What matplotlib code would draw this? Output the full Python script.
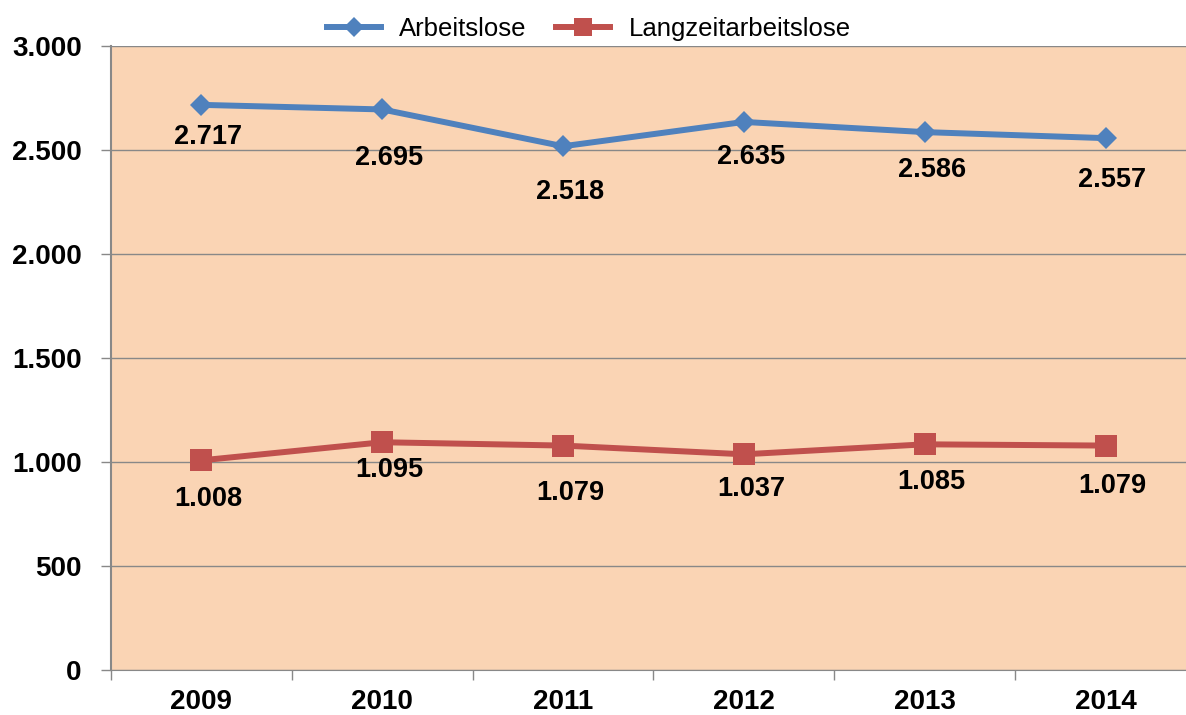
import matplotlib.pyplot as plt
from matplotlib.ticker import FixedLocator

# data
years = ["2009", "2010", "2011", "2012", "2013", "2014"]
arbeitslose = [2717, 2695, 2518, 2635, 2586, 2557]
langzeit = [1008, 1095, 1079, 1037, 1085, 1079]
yticks = [0, 500, 1000, 1500, 2000, 2500, 3000]

# label offsets below the points (points), as placed in the original
off_blue = [23, 35, 33, 25, 27, 30]
off_red = [28, 20, 34, 25, 27, 29]

plt.rcParams['font.family'] = ['Liberation Sans', 'DejaVu Sans']

fig = plt.figure(figsize=(11.86, 7.15), dpi=100)
ax = fig.add_axes([111 / 1186, 45 / 715, 1085 / 1186, 624 / 715])
ax.set_facecolor('#FAD4B4')

x = list(range(len(years)))
ax.plot(x, arbeitslose, color='#4F81BD', linewidth=4.3, marker='D',
        markersize=11.5, markeredgewidth=0, label='Arbeitslose', zorder=3)
ax.plot(x, langzeit, color='#C0504D', linewidth=4.3, marker='s',
        markersize=15.5, markeredgewidth=0, label='Langzeitarbeitslose', zorder=3)

def fmt(v):
    return "{:,}".format(v).replace(",", ".")

for i, v in enumerate(arbeitslose):
    ax.annotate(fmt(v), (i, v), xytext=(5, -off_blue[i]), textcoords='offset points',
                ha='center', va='center', fontsize=19.5, fontweight='bold', zorder=4)
for i, v in enumerate(langzeit):
    ax.annotate(fmt(v), (i, v), xytext=(5, -off_red[i]), textcoords='offset points',
                ha='center', va='center', fontsize=19.5, fontweight='bold', zorder=4)

ax.set_xlim(-0.5, 5.5)
ax.set_ylim(0, 3000)
ax.set_yticks(yticks)
ax.set_yticklabels([fmt(v) for v in yticks], fontsize=20, fontweight='bold')
ax.set_xticks(x)
ax.set_xticklabels(years, fontsize=20, fontweight='bold')
ax.xaxis.set_minor_locator(FixedLocator([k - 0.5 for k in range(len(years) + 1)]))
ax.tick_params(axis='x', which='major', length=0, pad=14)
ax.tick_params(axis='x', which='minor', length=7, color='#888888', width=1)
ax.tick_params(axis='y', length=7, color='#888888', width=1, pad=14)

ax.grid(axis='y', color='#888888', linewidth=1, zorder=1)
ax.set_axisbelow(True)
for s in ['top', 'right']:
    ax.spines[s].set_visible(False)
ax.spines['left'].set_color('#888888')
ax.spines['left'].set_linewidth(1.5)
ax.spines['bottom'].set_color('#888888')

fig.legend(loc='center', bbox_to_anchor=(589 / 1186, 1 - 29 / 715), ncol=2,
           frameon=False, fontsize=18.5, handlelength=2.1, handletextpad=0.7,
           columnspacing=1.15, markerscale=0.85)

fig.savefig('out.png', dpi=100)
